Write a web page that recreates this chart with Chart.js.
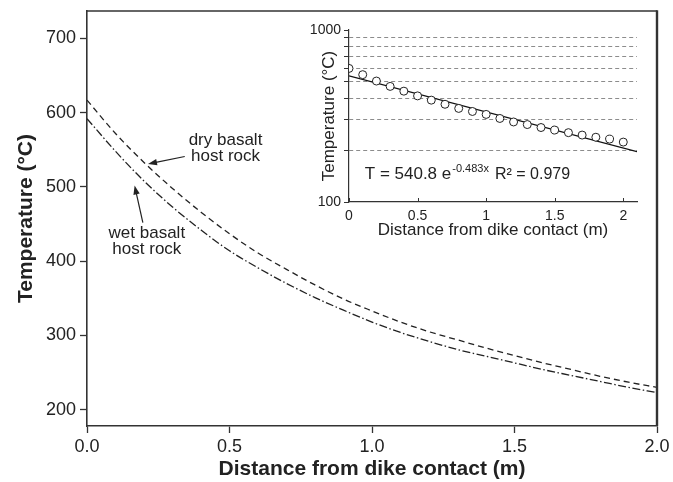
<!DOCTYPE html>
<html>
<head>
<meta charset="utf-8">
<title>Temperature vs distance from dike contact</title>
<script src="https://cdn.jsdelivr.net/npm/chart.js@4.4.1/dist/chart.umd.min.js"></script>
<style>
  html, body { margin: 0; padding: 0; background: #fff; }
  #wrap { position: relative; width: 673px; height: 482px; overflow: hidden; }
  #mainChart { position: absolute; left: 0; top: 0; }
  #insetChart { position: absolute; left: 300px; top: 12px; }
</style>
</head>
<body>
<div id="wrap">
  <canvas id="mainChart" width="673" height="482"></canvas>
  <canvas id="insetChart" width="360" height="236"></canvas>
</div>
<script>
// ---- data ----
// distance from dike contact (m), every 0.1 m
const distance = [0, 0.1, 0.2, 0.3, 0.4, 0.5, 0.6, 0.7, 0.8, 0.9, 1.0,
                  1.1, 1.2, 1.3, 1.4, 1.5, 1.6, 1.7, 1.8, 1.9, 2.0];
// main plot curves (°C)
const dryBasalt = [617, 572, 533, 498, 466, 437, 411, 389, 368, 349, 333,
                   318, 305, 294, 283, 273, 263, 254, 245, 237, 230];
const wetBasalt = [592, 548, 508, 473, 442, 414, 391, 370, 351, 334, 318,
                   304, 292, 281, 272, 263, 254, 246, 238, 230, 223];
const mainXTicks = [0, 0.5, 1.0, 1.5, 2.0];
const mainYTicks = [200, 300, 400, 500, 600, 700];

// inset: modelled points (circles) and exponential fit (solid line)
const insetTemp = [598, 550, 505, 470, 441, 414, 391, 370, 350, 336, 323,
                   306, 292, 282, 271, 262, 253, 245, 238, 232, 223];
const fitDistance = [0, 2.1];
const fitTemp = [540.8, 196.1];
const insetXTicks = [0, 0.5, 1, 1.5, 2];
const insetYTicks = [100, 200, 300, 400, 500, 600, 700, 800, 900, 1000];

// annotations: text lines + anchor in data units, arrow tail -> tip
const dryLabel = ['dry basalt', 'host rock'];
const dryLabelAt = [0.486, 552];
const dryArrow = [[0.343, 541], [0.214, 531]];
const wetLabel = ['wet basalt', 'host rock'];
const wetLabelAt = [0.21, 427];
const wetArrow = [[0.196, 452], [0.167, 502]];

const fitEquation = { left: 'T = 540.8 e', sup: '-0.483x', right: 'R² = 0.979' };
const fitEquationAt = [0.115, 147];

(function () {
  const FONT = '"Liberation Sans", Arial, Helvetica, sans-serif';
  const INK = '#222';
  Chart.defaults.font.family = FONT;
  Chart.defaults.color = INK;

  function toPoints(xs, ys) {
    return xs.map((x, i) => ({ x: x, y: ys[i] }));
  }

  function drawArrow(ctx, x1, y1, x2, y2) {
    const ang = Math.atan2(y2 - y1, x2 - x1);
    const len = 9, half = 3.2;
    ctx.beginPath();
    ctx.moveTo(x1, y1);
    ctx.lineTo(x2 - Math.cos(ang) * (len - 1), y2 - Math.sin(ang) * (len - 1));
    ctx.stroke();
    ctx.beginPath();
    ctx.moveTo(x2, y2);
    ctx.lineTo(x2 - Math.cos(ang) * len + Math.sin(ang) * half,
               y2 - Math.sin(ang) * len - Math.cos(ang) * half);
    ctx.lineTo(x2 - Math.cos(ang) * len - Math.sin(ang) * half,
               y2 - Math.sin(ang) * len + Math.cos(ang) * half);
    ctx.closePath();
    ctx.fill();
  }

  // the scales ask for room for half a label at the ends; we size the box ourselves
  function noEndPadding(s) {
    s.paddingTop = 0;
    s.paddingBottom = 0;
  }

  // top + right edges of the main plot box, and the curve labels
  const mainDecor = {
    id: 'mainDecor',
    afterDraw(chart) {
      const { ctx, chartArea: a, scales } = chart;
      const sx = scales.x, sy = scales.y;
      ctx.save();
      ctx.strokeStyle = '#333';
      ctx.lineWidth = 1.6;
      ctx.beginPath();
      ctx.moveTo(a.left, a.top);
      ctx.lineTo(a.right, a.top);
      ctx.stroke();
      ctx.lineWidth = 2.4;
      ctx.beginPath();
      ctx.moveTo(a.right, a.top - 0.8);
      ctx.lineTo(a.right, a.bottom);
      ctx.stroke();

      ctx.fillStyle = INK;
      ctx.font = '17px ' + FONT;
      ctx.textAlign = 'center';
      ctx.textBaseline = 'middle';
      [[dryLabel, dryLabelAt], [wetLabel, wetLabelAt]].forEach(([lines, at]) => {
        const cx = sx.getPixelForValue(at[0]);
        const cy = sy.getPixelForValue(at[1]);
        const lh = 16.5;
        lines.forEach((t, i) => {
          ctx.fillText(t, cx, cy + (i - (lines.length - 1) / 2) * lh);
        });
      });

      ctx.strokeStyle = INK;
      ctx.lineWidth = 1.2;
      [dryArrow, wetArrow].forEach(([from, to]) => {
        drawArrow(ctx,
          sx.getPixelForValue(from[0]), sy.getPixelForValue(from[1]),
          sx.getPixelForValue(to[0]), sy.getPixelForValue(to[1]));
      });
      ctx.restore();
    },
  };

  new Chart(document.getElementById('mainChart').getContext('2d'), {
    type: 'scatter',
    data: {
      datasets: [
        {
          label: 'dry basalt host rock',
          data: toPoints(distance, dryBasalt),
          showLine: true,
          borderColor: INK,
          borderWidth: 1.3,
          borderDash: [6, 4],
          pointRadius: 0,
          cubicInterpolationMode: 'monotone',
        },
        {
          label: 'wet basalt host rock',
          data: toPoints(distance, wetBasalt),
          showLine: true,
          borderColor: INK,
          borderWidth: 1.3,
          borderDash: [8, 2.5, 1.5, 2.5],
          pointRadius: 0,
          cubicInterpolationMode: 'monotone',
        },
      ],
    },
    options: {
      responsive: false,
      animation: false,
      devicePixelRatio: 1,
      layout: { padding: { top: 11, right: 16, left: 0, bottom: 0 } },
      plugins: { legend: { display: false }, tooltip: { enabled: false } },
      scales: {
        x: {
          type: 'linear',
          min: 0,
          max: 2,
          afterBuildTicks: (s) => { s.ticks = mainXTicks.map((v) => ({ value: v })); },
          afterFit: (s) => { s.height = 56; },
          ticks: {
            font: { size: 18 },
            color: INK,
            padding: 3,
            maxRotation: 0,
            autoSkip: false,
            callback: (v) => Number(v).toFixed(1),
          },
          grid: { drawOnChartArea: false, drawTicks: true, tickLength: 7, tickColor: '#333', tickWidth: 1.3 },
          border: { color: '#333', width: 1.6 },
          title: {
            display: true,
            text: 'Distance from dike contact (m)',
            font: { size: 21, weight: 'bold' },
            color: INK,
            padding: { top: 0, bottom: 0 },
          },
        },
        y: {
          type: 'linear',
          min: 178,
          max: 737,
          afterBuildTicks: (s) => { s.ticks = mainYTicks.map((v) => ({ value: v })); },
          afterFit: (s) => { s.width = 87; noEndPadding(s); },
          ticks: { font: { size: 18 }, color: INK, padding: 4, autoSkip: false },
          grid: { drawOnChartArea: false, drawTicks: true, tickLength: 7, tickColor: '#333', tickWidth: 1.3 },
          border: { color: '#333', width: 1.6 },
          title: {
            display: true,
            text: 'Temperature (°C)',
            font: { size: 21, weight: 'bold' },
            color: INK,
            padding: { top: 14, bottom: 0 },
          },
        },
      },
    },
    plugins: [mainDecor],
  });

  // inset: x tick marks point inward, plus the fit equation
  const insetDecor = {
    id: 'insetDecor',
    afterDraw(chart) {
      const { ctx, chartArea: a, scales } = chart;
      const sx = scales.x, sy = scales.y;
      ctx.save();
      ctx.strokeStyle = '#333';
      ctx.lineWidth = 1;
      insetXTicks.forEach((v) => {
        const px = Math.round(sx.getPixelForValue(v)) + 0.5;
        ctx.beginPath();
        ctx.moveTo(px, a.bottom);
        ctx.lineTo(px, a.bottom - 4);
        ctx.stroke();
      });

      const x0 = sx.getPixelForValue(fitEquationAt[0]);
      const y0 = sy.getPixelForValue(fitEquationAt[1]) + 6;
      ctx.fillStyle = INK;
      ctx.textBaseline = 'alphabetic';
      ctx.textAlign = 'left';
      ctx.font = '17px ' + FONT;
      ctx.fillText(fitEquation.left, x0, y0);
      let x = x0 + ctx.measureText(fitEquation.left).width + 1;
      ctx.font = '11px ' + FONT;
      ctx.fillText(fitEquation.sup, x, y0 - 7);
      x += ctx.measureText(fitEquation.sup).width + 6;
      ctx.font = '16px ' + FONT;
      ctx.fillText(fitEquation.right, x, y0);
      ctx.restore();
    },
  };

  new Chart(document.getElementById('insetChart').getContext('2d'), {
    type: 'scatter',
    data: {
      datasets: [
        {
          label: 'fit',
          data: toPoints(fitDistance, fitTemp),
          showLine: true,
          borderColor: '#111',
          borderWidth: 1.2,
          pointRadius: 0,
          order: 2,
        },
        {
          label: 'model',
          data: toPoints(distance, insetTemp),
          showLine: false,
          pointStyle: 'circle',
          pointRadius: 4,
          backgroundColor: '#fff',
          borderColor: INK,
          borderWidth: 1,
          order: 1,
        },
      ],
    },
    options: {
      responsive: false,
      animation: false,
      devicePixelRatio: 1,
      layout: { padding: { top: 18, right: 23, left: 0, bottom: 0 } },
      plugins: { legend: { display: false }, tooltip: { enabled: false } },
      scales: {
        x: {
          type: 'linear',
          min: 0,
          max: 2.1,
          afterBuildTicks: (s) => { s.ticks = insetXTicks.map((v) => ({ value: v })); },
          afterFit: (s) => { s.height = 46; },
          ticks: {
            font: { size: 14 },
            color: INK,
            padding: 6,
            maxRotation: 0,
            autoSkip: false,
            callback: (v) => String(v),
          },
          grid: { drawOnChartArea: false, drawTicks: false },
          border: { color: '#333', width: 1.2 },
          title: {
            display: true,
            text: 'Distance from dike contact (m)',
            font: { size: 17 },
            color: INK,
            padding: { top: 0, bottom: 7 },
          },
        },
        y: {
          type: 'logarithmic',
          min: 100,
          max: 1000,
          afterBuildTicks: (s) => { s.ticks = insetYTicks.map((v) => ({ value: v })); },
          afterFit: (s) => { s.width = 49; noEndPadding(s); },
          ticks: {
            font: { size: 14 },
            color: INK,
            padding: 3,
            autoSkip: false,
            callback: (v) => (v === 100 || v === 1000 ? String(v) : ''),
          },
          grid: {
            drawOnChartArea: true,
            drawTicks: true,
            tickLength: 5,
            tickColor: '#333',
            tickWidth: 1,
            color: (c) => (c.tick && (c.tick.value === 100 || c.tick.value === 1000) ? 'rgba(0,0,0,0)' : '#8c8c8c'),
            lineWidth: 1,
          },
          border: { color: '#333', width: 1.2, dash: [4, 3] },
          title: {
            display: true,
            text: 'Temperature (°C)',
            font: { size: 17 },
            color: INK,
            padding: { top: 19, bottom: 0 },
          },
        },
      },
    },
    plugins: [insetDecor],
  });
})();
</script>
</body>
</html>
